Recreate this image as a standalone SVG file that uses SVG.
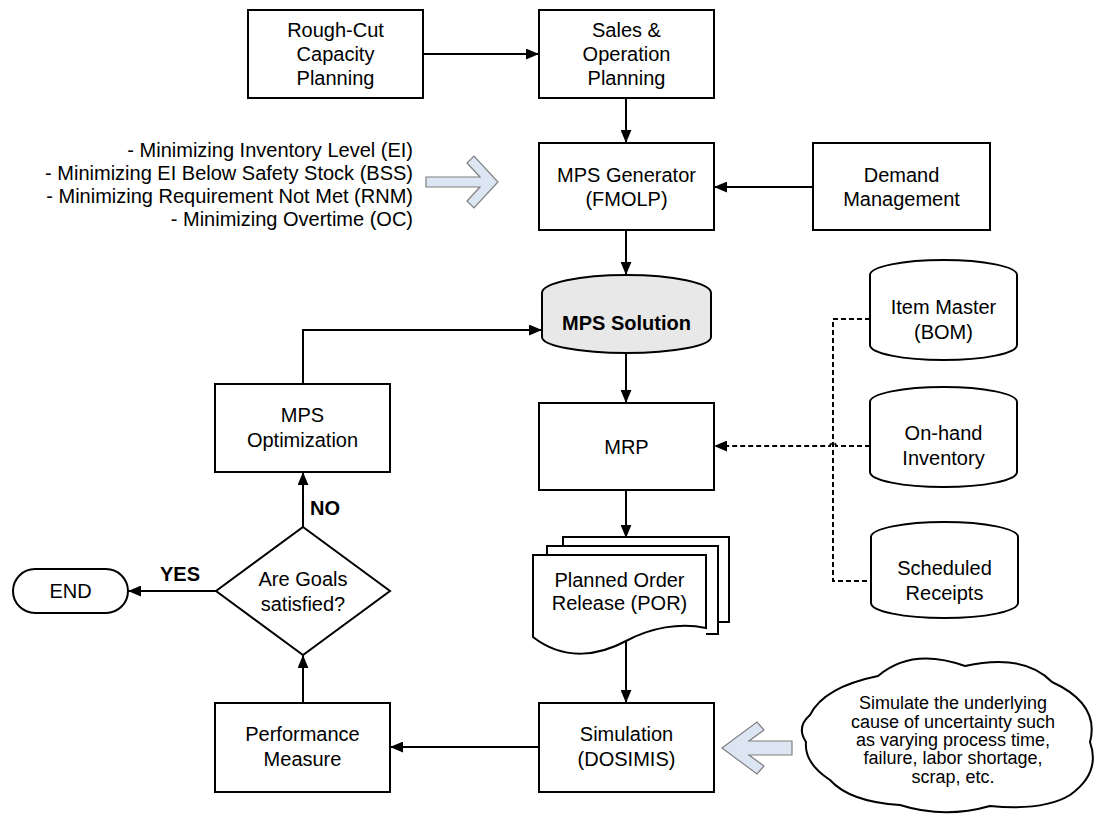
<svg xmlns="http://www.w3.org/2000/svg" width="1096" height="814" viewBox="0 0 1096 814">
<defs>
<style>
.box{fill:#fff;stroke:#000;stroke-width:2}
.db{fill:#fff;stroke:#000;stroke-width:2}
.t{font-family:"Liberation Sans",Arial,sans-serif;font-size:20px;fill:#000;text-anchor:middle}
.s{font-size:18px}
.r{text-anchor:end}
.b{font-weight:bold}
.c{fill:none;stroke:#000;stroke-width:2}
.d{fill:none;stroke:#000;stroke-width:2;stroke-dasharray:5 3}
.blk{fill:#dce6f2;stroke:#7f7f7f;stroke-width:1.2}
</style>
<marker id="ah" viewBox="0 0 12 10" refX="12" refY="5" markerWidth="13" markerHeight="11" markerUnits="userSpaceOnUse" orient="auto">
<path d="M0,0L12,5L0,10z" fill="#000"/>
</marker>
</defs>
<rect width="1096" height="814" fill="#fff"/>

<!-- connectors -->
<g id="connectors">
<path class="c" d="M423,54H539" marker-end="url(#ah)"/>
<path class="c" d="M626,98V143" marker-end="url(#ah)"/>
<path class="c" d="M813,187H714" marker-end="url(#ah)"/>
<path class="c" d="M626,230V275" marker-end="url(#ah)"/>
<path class="c" d="M626,353V403" marker-end="url(#ah)"/>
<path class="c" d="M626,490V538" marker-end="url(#ah)"/>
<path class="c" d="M626,641V703" marker-end="url(#ah)"/>
<path class="c" d="M539,747H390" marker-end="url(#ah)"/>
<path class="c" d="M303,703V655" marker-end="url(#ah)"/>
<path class="c" d="M303,527V472" marker-end="url(#ah)"/>
<path class="c" d="M216,591H128" marker-end="url(#ah)"/>
<path class="c" d="M303,384V330H542" marker-end="url(#ah)"/>
<path class="d" d="M870,319H833V581H870"/>
<path class="d" d="M870,446H836A3,3 0 0 0 830,446H714" marker-end="url(#ah)"/>
<text class="t b" x="325" y="515">NO</text>
<text class="t b" x="180" y="581">YES</text>
</g>

<g id="rough-cut">
<rect class="box" x="248" y="10" width="175" height="88"/>
<text class="t" x="335.5" y="37">Rough-Cut</text>
<text class="t" x="335.5" y="61">Capacity</text>
<text class="t" x="335.5" y="85">Planning</text>
</g>

<g id="sop">
<rect class="box" x="539" y="10" width="175" height="88"/>
<text class="t" x="626.5" y="37">Sales &amp;</text>
<text class="t" x="626.5" y="61">Operation</text>
<text class="t" x="626.5" y="85">Planning</text>
</g>

<g id="objectives">
<text class="t r" x="413" y="157">- Minimizing Inventory Level (EI)</text>
<text class="t r" x="413" y="180">- Minimizing EI Below Safety Stock (BSS)</text>
<text class="t r" x="413" y="203">- Minimizing Requirement Not Met (RNM)</text>
<text class="t r" x="413" y="226">- Minimizing Overtime (OC)</text>
<polygon class="blk" points="426,177 480,177 467,163 474,156 498,182 474,208 467,201 480,187 426,187"/>
</g>

<g id="mps-generator">
<rect class="box" x="539" y="143" width="175" height="87"/>
<text class="t" x="626.5" y="182">MPS Generator</text>
<text class="t" x="626.5" y="206">(FMOLP)</text>
</g>

<g id="demand">
<rect class="box" x="813" y="143" width="177" height="87"/>
<text class="t" x="901.5" y="182">Demand</text>
<text class="t" x="901.5" y="206">Management</text>
</g>

<g id="mps-solution">
<path d="M542,293A84.5,18 0 0 1 711,293V337A84.5,16 0 0 1 542,337Z" fill="#e8e8e8" stroke="#000" stroke-width="2"/>
<text class="t b" x="626.5" y="330">MPS Solution</text>
</g>

<g id="mps-optimization">
<rect class="box" x="215" y="384" width="175" height="88"/>
<text class="t" x="302.5" y="422">MPS</text>
<text class="t" x="302.5" y="447">Optimization</text>
</g>

<g id="mrp">
<rect class="box" x="539" y="403" width="175" height="87"/>
<text class="t" x="626.5" y="454">MRP</text>
</g>

<g id="item-master">
<path class="db" d="M870,275A73.5,15 0 0 1 1017,275V345A73.5,15 0 0 1 870,345Z"/>
<text class="t" x="943.5" y="314">Item Master</text>
<text class="t" x="943.5" y="339">(BOM)</text>
</g>

<g id="on-hand">
<path class="db" d="M870,402A73.5,15 0 0 1 1017,402V472A73.5,15 0 0 1 870,472Z"/>
<text class="t" x="943.5" y="440">On-hand</text>
<text class="t" x="943.5" y="465">Inventory</text>
</g>

<g id="scheduled">
<path class="db" d="M871,537A73.5,15 0 0 1 1018,537V603A73.5,15 0 0 1 871,603Z"/>
<text class="t" x="944.5" y="575">Scheduled</text>
<text class="t" x="944.5" y="600">Receipts</text>
</g>

<g id="por">
<path class="box" d="M563,546V537H729V622H718"/>
<path class="box" d="M547,555V546H718V634H706"/>
<path class="box" d="M533,555H706V628C680,622 650,628 626,641C600,655 565,662 533,637Z"/>
<text class="t" x="619.5" y="587">Planned Order</text>
<text class="t" x="619.5" y="610">Release (POR)</text>
</g>

<g id="simulation">
<rect class="box" x="539" y="703" width="175" height="89"/>
<text class="t" x="626.5" y="741">Simulation</text>
<text class="t" x="626.5" y="766">(DOSIMIS)</text>
</g>

<g id="performance">
<rect class="box" x="215" y="703" width="175" height="89"/>
<text class="t" x="302.5" y="741">Performance</text>
<text class="t" x="302.5" y="766">Measure</text>
</g>

<g id="decision">
<polygon class="box" points="303,527 390,591 303,655 216,591"/>
<text class="t" x="303" y="586">Are Goals</text>
<text class="t" x="303" y="611">satisfied?</text>
</g>

<g id="end">
<rect class="box" x="13" y="569" width="115" height="44" rx="22" ry="22"/>
<text class="t" x="70.5" y="598">END</text>
</g>

<g id="uncertainty">
<polygon class="blk" points="722,748 757,722 764,730 749,741 792,741 792,755 749,755 764,766 757,774"/>
<path class="box" d="M810,715Q824,687 878,676Q912,647 965,666Q1024,653 1052,682Q1100,704 1090,742Q1101,773 1070,795Q1044,811 990,806Q944,819 900,805Q850,802 830,780Q804,763 806,742Q796,727 810,715Z"/>
<text class="t s" x="953" y="709">Simulate the underlying</text>
<text class="t s" x="953" y="728">cause of uncertainty such</text>
<text class="t s" x="953" y="746">as varying process time,</text>
<text class="t s" x="953" y="764">failure, labor shortage,</text>
<text class="t s" x="953" y="783">scrap, etc.</text>
</g>
</svg>
